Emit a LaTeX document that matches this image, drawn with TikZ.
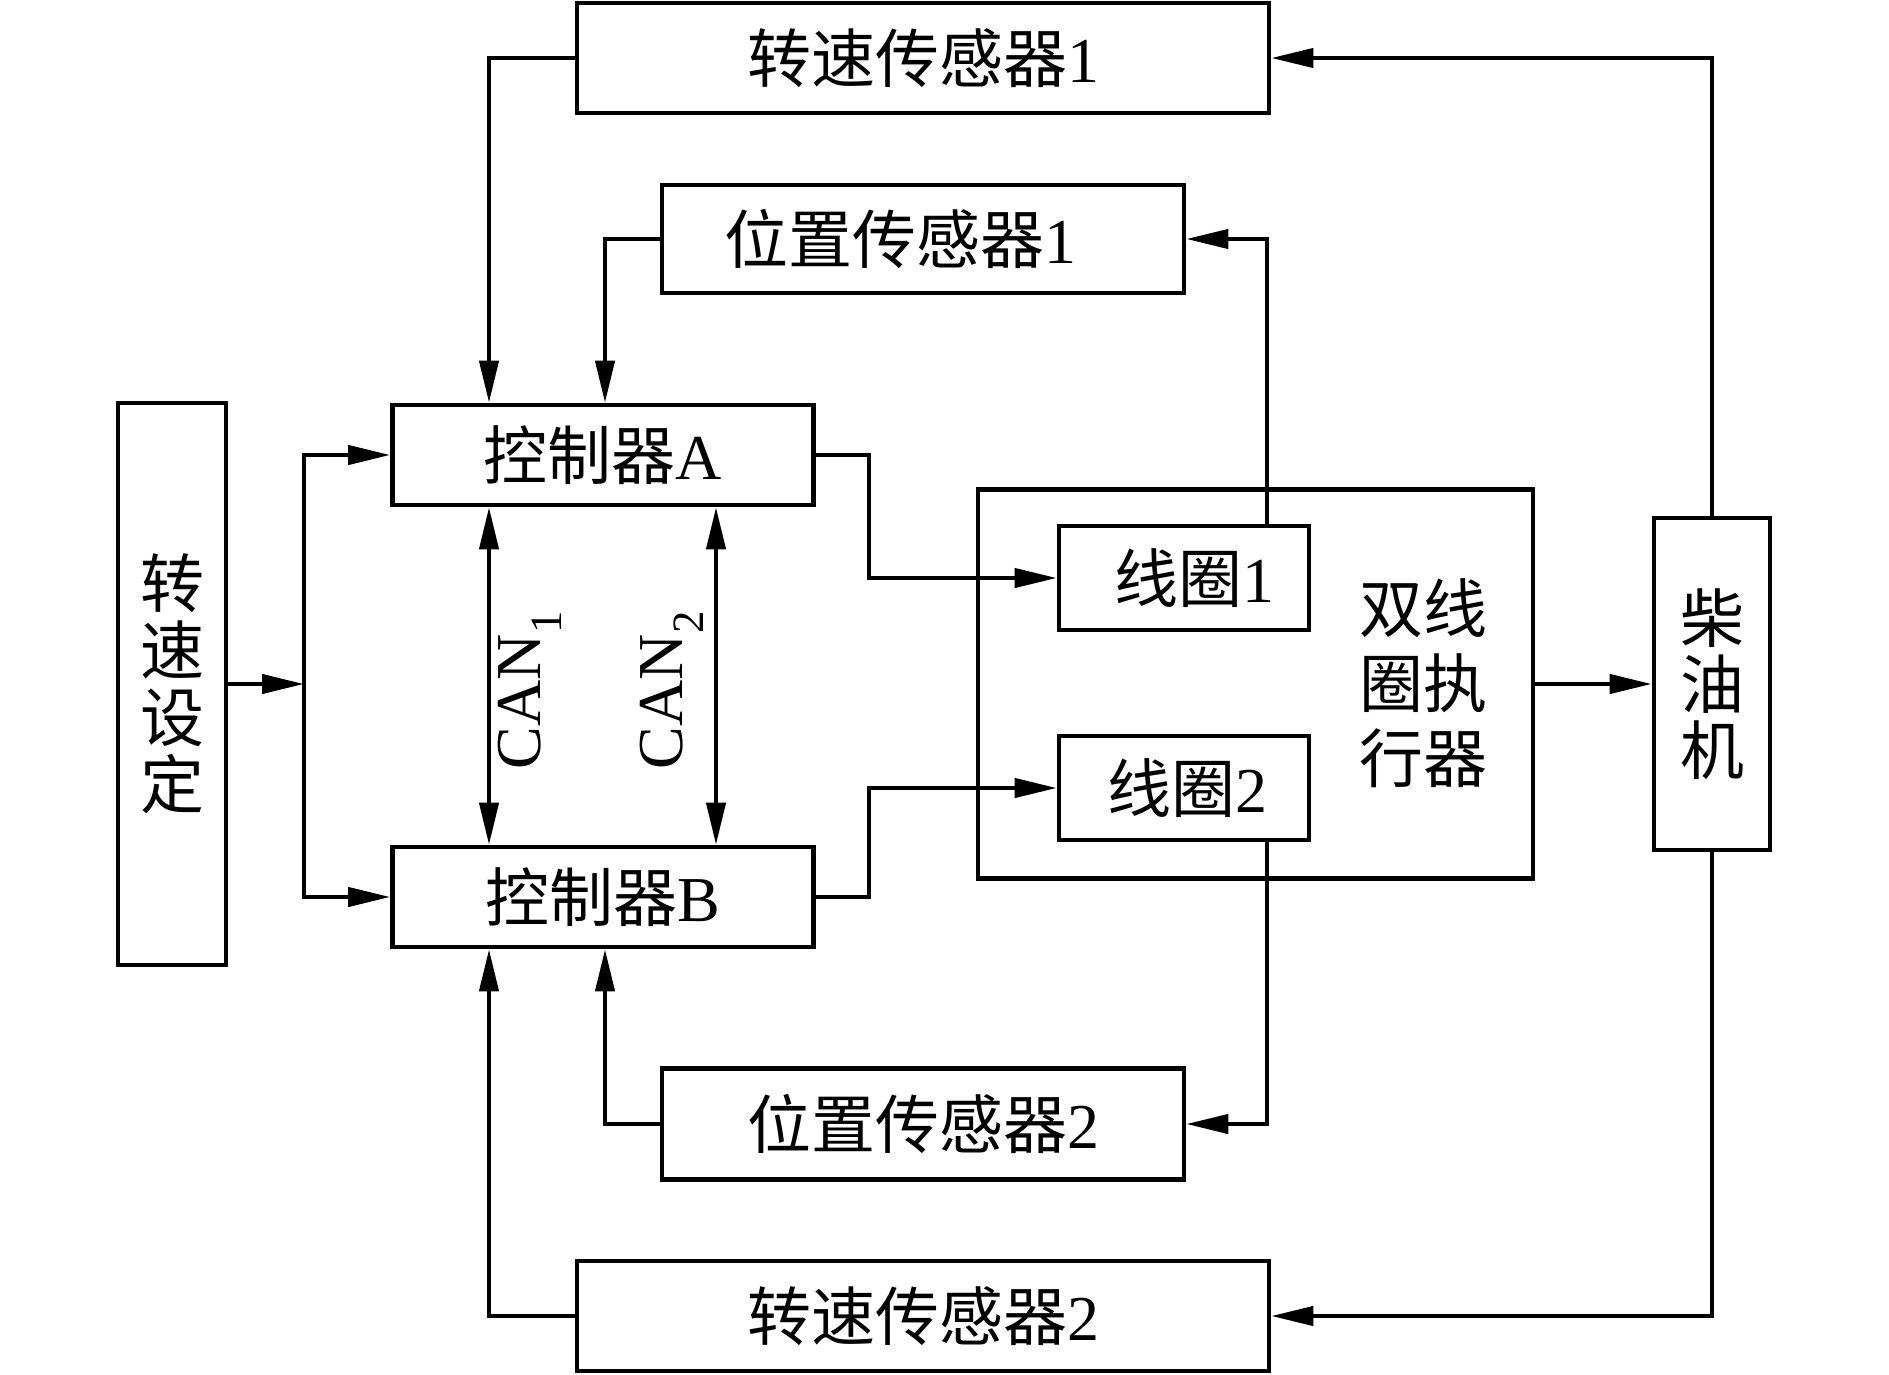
\documentclass[tikz,border=0pt]{standalone}
\usepackage{fontspec}
\setmainfont{Liberation Serif}
\newfontfamily\cjk{Noto Sans CJK SC}
\usetikzlibrary{arrows.meta}
\begin{document}
\begin{tikzpicture}[x=1pt,y=-1pt,
  box/.style={draw, line width=4.6pt, inner sep=0pt, font=\fontsize{64pt}{67pt}\selectfont},
  lbl/.style={inner sep=0pt, font=\fontsize{64pt}{67pt}\selectfont},
  conn/.style={line width=4.2pt, -{Triangle[length=42pt,width=19pt]}},
  bus/.style={line width=4.2pt, {Triangle[length=42pt,width=19pt]}-{Triangle[length=42pt,width=19pt]}}]
\fill[white] (0,0) rectangle (1889,1375);
\useasboundingbox (0,0) rectangle (1889,1375);

% boxes
\node[box, minimum width=692pt, minimum height=110pt] (ss1) at (923,58) {{\cjk 转速传感器}1};
\node[box, minimum width=522pt, minimum height=108pt] (ps1) at (923,239) {};
\node[lbl] (ps1t) at (900,239) {{\cjk 位置传感器}1};
\node[box, minimum width=421pt, minimum height=100pt] (ca) at (603,455) {{\cjk 控制器}A};
\node[box, minimum width=421pt, minimum height=100pt] (cb) at (603,897) {{\cjk 控制器}B};
\node[box, minimum width=108pt, minimum height=562pt, align=center, font=\fontsize{64pt}{67pt}\selectfont\cjk] (set) at (172,684) {转\\速\\设\\定};
\node[box, minimum width=555pt, minimum height=389pt] (act) at (1255.5,684) {};
\node[lbl, align=center, font=\fontsize{64pt}{75pt}\selectfont\cjk] (actt) at (1423,683) {双线\\圈执\\行器};
\node[box, minimum width=250pt, minimum height=104pt] (c1) at (1184,578) {};
\node[lbl] (c1t) at (1194,578) {{\cjk 线圈}1};
\node[box, minimum width=250pt, minimum height=104pt] (c2) at (1184,788) {};
\node[lbl] (c2t) at (1187,788) {{\cjk 线圈}2};
\node[box, minimum width=116pt, minimum height=332pt, align=center, font=\fontsize{64pt}{66pt}\selectfont\cjk] (die) at (1712,684) {柴\\油\\机};
\node[box, minimum width=522pt, minimum height=111pt] (ps2) at (923,1124) {{\cjk 位置传感器}2};
\node[box, minimum width=692pt, minimum height=110pt] (ss2) at (923,1316) {{\cjk 转速传感器}2};

% helper coordinates
\coordinate (sp) at (304,684);
\coordinate (xa) at (869,0);
\coordinate (xc) at (1267,0);
\coordinate (xs) at (489,0);
\coordinate (xp) at (605,0);
\coordinate (xcan) at (716,0);

% speed setting split
\draw[conn] (set.east |- sp) -- (sp);
\draw[conn] (sp) |- (ca.west);
\draw[conn] (sp) |- (cb.west);

% controllers to coils
\draw[conn] (ca.east) -| (xa |- c1.west) -- (c1.west);
\draw[conn] (cb.east) -| (xa |- c2.west) -- (c2.west);

% coils to position sensors
\draw[conn] (xc |- c1.north) |- (ps1.east);
\draw[conn] (xc |- c2.south) |- (ps2.east);

% actuator to diesel
\draw[conn] (act.east) -- (die.west);

% diesel to speed sensors
\draw[conn] (die.north) |- (ss1.east);
\draw[conn] (die.south) |- (ss2.east);

% sensors to controllers
\draw[conn] (ss1.west) -| (xs |- ca.north);
\draw[conn] (ps1.west) -| (xp |- ca.north);
\draw[conn] (ss2.west) -| (xs |- cb.south);
\draw[conn] (ps2.west) -| (xp |- cb.south);

% CAN buses
\draw[bus] (xs |- ca.south) -- (xs |- cb.north);
\draw[bus] (xcan |- ca.south) -- (xcan |- cb.north);
\node[lbl, rotate=90] (can1) at (530,690) {CAN\textsubscript{1}};
\node[lbl, rotate=90] (can2) at (672,690) {CAN\textsubscript{2}};
\end{tikzpicture}
\end{document}
